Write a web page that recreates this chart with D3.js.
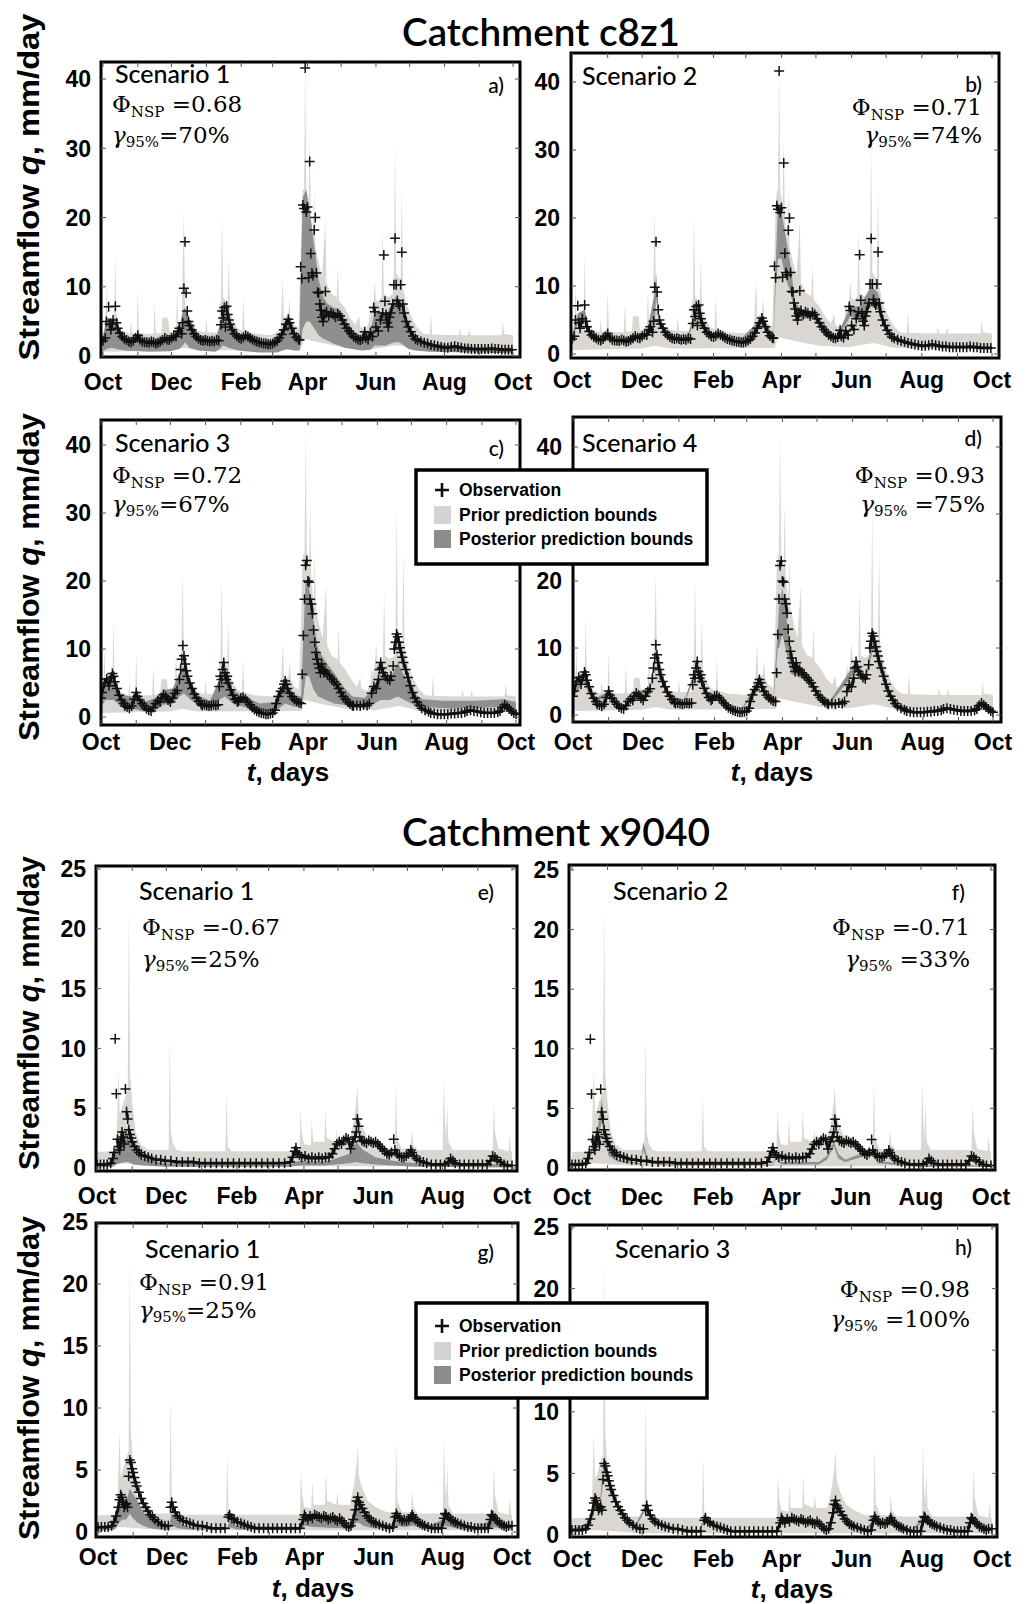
<!DOCTYPE html>
<meta charset="utf-8">
<body style="margin:0;background:#ffffff">
<script src="https://cdn.jsdelivr.net/npm/d3@7"></script>
<div id="chart"></div>
<script>

// ---------- axis data ----------
var monthDays = [0,31,61,92,123,151,182,212,243,273,304,335,365];
var labelDays = [0,61,123,182,243,304,365];
var labelNames = ["Oct","Dec","Feb","Apr","Jun","Aug","Oct"];
var ticksC8z1 = [0,10,20,30,40];
var ticksX9040 = [0,5,10,15,20,25];

// ---------- catchment c8z1 : observations [day, q] ----------
var obsC8z1Ab = [[0,2.2],[2,2.6],[3,5.0],[5,7.1],[6,4.6],[7,3.8],[9,5.2],[11,7.2],[12,4.8],[13,4.0],[15,3.3],[17,2.8],[19,2.5],[21,2.3],[23,2.1],[25,2.0],[27,2.2],[29,2.6],[31,3.0],[33,2.4],[35,2.1],[37,2.0],[39,2.0],[41,1.9],[43,2.1],[45,2.0],[47,1.8],[49,1.9],[51,2.1],[53,2.3],[55,2.6],[57,2.4],[59,2.3],[61,2.6],[63,2.9],[65,2.8],[67,3.6],[68,4.0],[70,3.2],[71,4.8],[72,9.8],[73,16.5],[74,9.1],[75,6.5],[76,5.0],[77,4.4],[79,3.8],[81,3.2],[83,2.8],[85,2.5],[87,2.3],[89,2.2],[91,2.3],[93,2.2],[95,2.1],[97,2.2],[99,2.1],[101,2.3],[103,2.2],[105,4.5],[106,6.5],[107,5.5],[108,7.0],[109,4.2],[110,7.2],[111,6.0],[112,5.2],[113,4.6],[115,3.8],[117,3.2],[119,2.9],[121,2.6],[123,2.5],[125,2.7],[127,3.0],[129,2.8],[131,2.6],[133,2.4],[135,2.2],[137,2.1],[139,2.0],[141,1.9],[143,1.8],[145,1.8],[147,1.7],[149,1.7],[151,1.8],[153,2.0],[155,2.2],[157,2.6],[159,3.1],[161,3.8],[163,4.6],[165,5.3],[166,4.8],[168,4.0],[170,3.2],[172,2.7],[174,2.4],[175,2.3],[176,12.9],[177,11.2],[178,21.8],[179,21.3],[180,41.6],[181,20.8],[182,21.5],[183,11.3],[184,28.1],[185,14.8],[186,12.0],[187,11.6],[188,18.2],[189,20.0],[190,12.0],[191,9.2],[192,9.1],[193,7.5],[194,6.6],[195,5.6],[196,5.0],[197,6.0],[198,9.3],[199,6.4],[201,5.8],[203,6.2],[205,6.0],[207,5.6],[209,6.1],[211,5.8],[213,5.2],[215,4.6],[217,4.0],[219,3.6],[221,3.2],[223,2.8],[225,2.6],[227,2.4],[229,2.3],[231,2.5],[233,3.5],[234,2.6],[236,2.4],[238,3.4],[240,2.8],[241,7.0],[242,6.4],[243,4.2],[245,3.6],[247,5.2],[249,6.2],[250,14.6],[251,7.9],[252,6.0],[253,4.8],[254,4.2],[255,5.6],[256,6.2],[258,7.5],[259,10.3],[260,17.0],[261,10.3],[262,8.0],[263,7.5],[264,7.2],[265,10.3],[266,15.0],[267,7.5],[268,6.2],[270,5.0],[272,4.2],[274,3.5],[276,2.9],[278,2.5],[280,2.3],[283,2.1],[286,1.9],[289,1.8],[292,1.6],[295,1.5],[298,1.4],[301,1.3],[304,1.2],[307,1.2],[310,1.3],[313,1.4],[316,1.3],[319,1.2],[322,1.1],[325,1.1],[328,1.0],[331,1.0],[334,1.0],[337,1.0],[340,1.0],[343,1.0],[346,1.1],[349,1.0],[352,1.0],[355,0.9],[358,0.9],[361,0.9],[364,0.9]];

var obsC8z1Cd = [[0,2.8],[1,3.6],[3,5.0],[5,5.6],[7,4.6],[9,5.8],[10,6.4],[11,6.0],[12,5.2],[14,4.2],[16,3.2],[18,2.5],[20,2.0],[21,1.6],[23,1.5],[25,1.3],[27,1.6],[29,2.6],[31,3.6],[32,3.0],[34,2.5],[36,2.0],[38,1.6],[40,1.2],[42,1.0],[44,0.9],[46,1.4],[48,2.0],[50,2.4],[52,2.2],[53,2.8],[55,3.3],[57,3.0],[59,2.5],[61,2.2],[63,2.8],[65,3.5],[67,3.9],[69,5.5],[70,7.0],[71,8.5],[72,10.5],[73,9.0],[74,7.8],[75,6.8],[76,6.0],[78,5.0],[80,4.2],[82,3.4],[84,2.8],[86,2.3],[88,1.9],[89,1.7],[91,1.8],[93,1.7],[95,1.6],[97,1.7],[99,1.8],[101,1.7],[103,1.8],[104,4.5],[105,6.0],[106,5.5],[107,7.0],[108,8.0],[109,6.5],[110,5.5],[111,6.0],[112,5.0],[114,4.0],[116,3.2],[118,2.6],[120,2.2],[121,2.4],[123,2.8],[125,2.9],[127,2.6],[129,2.2],[131,1.8],[133,1.4],[135,1.1],[137,0.9],[139,0.7],[141,0.6],[143,0.5],[145,0.4],[147,0.4],[149,0.5],[151,0.6],[153,1.0],[154,2.0],[156,3.0],[158,3.8],[160,4.2],[161,4.8],[162,5.3],[163,4.8],[164,4.2],[166,3.5],[168,3.0],[170,2.6],[172,2.3],[174,2.1],[176,2.0],[177,6.3],[178,12.0],[179,17.3],[180,22.3],[181,23.0],[182,20.0],[183,19.8],[184,17.3],[185,16.6],[186,15.2],[187,12.8],[188,11.0],[189,9.5],[190,8.5],[191,7.8],[192,7.2],[193,6.5],[194,7.8],[195,7.0],[196,6.5],[197,6.8],[199,6.3],[201,6.0],[203,5.6],[205,5.2],[207,4.8],[209,4.2],[211,3.6],[213,3.0],[215,2.6],[217,2.2],[219,1.9],[221,1.7],[222,1.6],[225,1.7],[228,1.6],[231,1.8],[234,1.7],[236,2.0],[238,3.5],[240,4.5],[242,4.2],[244,5.5],[245,7.0],[246,8.0],[247,7.2],[248,6.5],[250,6.0],[252,5.6],[254,5.4],[255,6.0],[257,7.5],[258,10.0],[259,11.0],[260,12.2],[261,11.8],[262,11.0],[263,10.2],[264,9.5],[265,8.8],[266,8.0],[268,7.0],[270,5.8],[272,4.6],[274,3.6],[276,2.8],[278,2.2],[280,1.7],[282,1.3],[285,1.0],[288,0.8],[290,0.6],[293,0.5],[296,0.4],[299,0.4],[302,0.4],[305,0.4],[308,0.5],[311,0.5],[314,0.6],[317,0.6],[320,0.7],[322,0.9],[325,1.0],[328,0.9],[331,0.8],[334,0.7],[337,0.6],[340,0.6],[343,0.6],[346,0.6],[349,0.7],[351,0.9],[353,1.4],[355,1.8],[357,1.5],[359,1.2],[361,0.9],[363,0.6],[365,0.4]];

// prior prediction bounds c8z1 (upper and lower edge, [day, q])
var priorHiC8z1 = [[0,3.2],[2,4.5],[3,10],[4,5],[6,5.2],[10,4.8],[11,14.5],[12,5],[16,3.8],[24,3.2],[25,5.2],[26,3.2],[30,3.2],[31,9.3],[32,3.5],[36,3.2],[45,3.2],[46,7.5],[47,3.3],[52,3.3],[53,5.6],[58,5.5],[59,3.5],[65,3.6],[66,9.5],[67,4.5],[70,5.5],[72,21],[73,7],[76,5.5],[78,4.5],[80,3.8],[91,3.4],[92,5.4],[93,3.4],[103,3.4],[104,7.5],[105,8],[106,20.5],[107,8.5],[111,7.5],[112,14],[113,6.5],[116,5],[120,4],[124,3.6],[125,8.5],[126,3.6],[135,3.2],[150,3.0],[158,3.8],[160,11],[161,5.5],[165,6],[166,8.2],[167,5.5],[170,4.5],[174,4],[176,14],[177,22],[178,24],[179,24],[180,42],[181,24],[182,23],[183,22],[184,31.5],[185,20],[187,17],[188,24],[189,16],[192,13.5],[195,11.5],[198,19.3],[199,10.5],[203,9],[208,8.5],[209,13],[210,8],[215,7],[220,5.5],[225,4.5],[228,5.8],[229,4.2],[234,3.8],[237,5],[238,7.6],[239,6],[241,8],[242,10.8],[243,8],[246,8],[248,8.5],[249,18.5],[250,9],[254,8.5],[258,9],[259,12],[260,31],[261,12],[265,11],[266,24.5],[267,10],[270,7.5],[275,5.5],[280,4],[285,3.2],[291,3.1],[292,6.2],[293,3.1],[317,3],[318,4],[319,3],[325,3],[326,4],[327,3],[355,3],[356,5],[357,3.2],[365,3]];
var priorLoC8z1 = [[0,0.6],[60,0.8],[72,1.2],[85,0.8],[176,0.9],[179,2.5],[192,2.0],[215,1.2],[240,1.0],[262,1.6],[280,0.9],[365,0.7]];

// posterior prediction bounds [day, lower, upper]
var postA = [[0,0.6,2.6],[3,1.0,5.5],[8,1.2,5.5],[12,1.0,4.5],[20,0.8,2.6],[40,0.6,2.3],[60,0.7,2.6],[68,1.0,4.0],[71,1.5,6.5],[73,2.0,7.0],[77,1.2,5.5],[85,0.8,3.0],[100,0.6,2.3],[104,1.0,4.5],[107,1.5,7.0],[112,1.2,5.5],[120,0.8,3.2],[140,0.5,2.1],[155,0.5,2.2],[160,0.8,4.0],[164,1.0,5.5],[170,0.8,3.2],[175,0.8,2.8],[176,2,12],[178,4,23],[181,5,24],[184,5,21],[188,4,16],[192,3,11],[196,2.5,8.5],[200,2.2,7.5],[205,1.8,7],[210,1.5,6.8],[215,1.2,5.5],[222,1.0,3.8],[230,0.8,2.8],[238,0.9,3.5],[242,1.5,6.5],[248,1.5,6.2],[252,1.5,6.0],[256,1.8,7.0],[260,2.0,8.5],[264,2.0,8.2],[268,1.5,6.5],[272,1.0,4.5],[278,0.8,2.8],[290,0.6,1.8],[330,0.5,1.3],[365,0.4,1.1]];
var postB = [[0,2.0,2.6],[5,4.5,6.0],[11,5.0,6.5],[15,3.0,3.6],[25,1.8,2.2],[31,2.6,3.2],[40,1.7,2.1],[55,2.3,2.8],[65,2.6,3.2],[72,5,9],[73,8,12],[76,4.2,5.2],[85,2.2,2.7],[100,1.9,2.4],[108,5.5,7.0],[112,4.5,5.5],[120,2.5,3.0],[127,2.6,3.1],[145,1.5,1.9],[166,4.5,5.5],[175,2.0,2.5],[177,10,13],[179,14,22],[182,14,21],[186,11,17],[190,9,13],[194,5.5,7.5],[200,5.2,6.5],[210,5.2,6.3],[220,2.9,3.5],[230,2.1,2.6],[242,5.5,7.0],[250,5,7],[260,7,10],[266,6.5,9],[272,3.4,4.2],[280,2.0,2.5],[300,1.1,1.5],[365,0.7,1.0]];
var postC = [[0,1.5,3.5],[4,2.5,5.0],[11,2.5,5.5],[18,1.5,3.2],[28,1.2,3.0],[38,0.8,2.2],[48,1.0,2.8],[55,1.8,4.0],[63,2.0,4.2],[69,3.0,6.5],[73,3.5,7.5],[79,2.5,5.0],[87,1.5,3.0],[96,1.2,2.4],[104,2.5,5.5],[109,3.0,6.5],[116,2.0,4.0],[125,1.5,3.0],[140,0.8,2.0],[153,0.8,2.2],[162,2.0,4.8],[170,1.5,3.2],[176,1.5,3.0],[178,3.0,12],[180,6.0,20],[183,6.0,19],[187,4.0,14],[191,3.0,10],[198,2.5,8],[205,2.0,6.5],[213,1.8,4.5],[221,1.5,3.0],[232,1.3,2.8],[240,2.0,4.5],[246,2.5,6.0],[254,2.5,5.5],[261,3.0,8.0],[267,2.5,6.0],[275,1.8,3.5],[283,1.5,2.6],[300,1.3,2.4],[329,1.3,2.4],[354,1.5,2.6],[365,1.2,2.2]];
var postD = [[0,2.4,3.0],[9,5.0,6.0],[18,1.8,2.3],[31,3.0,3.6],[43,0.8,1.1],[55,2.8,3.4],[67,3.5,4.2],[72,8.5,10],[82,3.0,3.6],[96,1.5,1.8],[108,6.5,7.8],[116,2.9,3.4],[125,2.6,3.0],[145,0.3,0.5],[162,4.6,5.4],[174,1.8,2.2],[178,10,13],[179,10,16],[182,12,19],[186,9,14],[190,6,9],[193,6,7.5],[203,5,6],[213,2.6,3.2],[222,1.4,1.8],[246,6.5,8],[254,5,5.8],[261,10,12],[271,4,5],[281,1.2,1.6],[300,0.3,0.5],[325,0.8,1.1],[345,0.5,0.7],[355,1.5,1.9],[365,0.3,0.5]];

// ---------- catchment x9040 ----------
var obsX9040Ef = [[0,0.3],[3,0.3],[6,0.3],[9,0.3],[12,0.4],[14,0.8],[15,1.3],[16,10.8],[17,6.2],[18,2.4],[19,1.8],[20,1.5],[21,2.2],[22,3.0],[23,2.6],[24,2.0],[25,6.6],[26,4.7],[27,4.1],[28,3.2],[29,2.8],[30,2.5],[31,2.2],[33,1.8],[35,1.5],[37,1.3],[39,1.1],[42,1.0],[45,0.9],[48,0.8],[52,0.7],[56,0.7],[60,0.6],[65,0.6],[70,0.5],[75,0.5],[80,0.5],[85,0.5],[90,0.4],[95,0.4],[100,0.4],[105,0.4],[110,0.4],[115,0.4],[120,0.4],[125,0.4],[130,0.4],[135,0.4],[140,0.4],[145,0.4],[150,0.4],[155,0.4],[160,0.4],[165,0.4],[170,0.5],[172,0.9],[174,1.4],[175,1.7],[176,1.3],[178,1.1],[180,0.9],[183,1.0],[186,0.8],[189,0.9],[192,0.8],[195,0.9],[198,0.8],[201,0.9],[204,0.9],[207,1.2],[209,1.6],[211,2.0],[213,2.2],[215,2.0],[217,2.3],[219,2.5],[221,2.4],[223,1.6],[225,2.2],[227,2.6],[228,3.0],[229,4.1],[230,3.5],[231,2.6],[233,2.3],[235,2.2],[237,2.1],[239,2.3],[241,2.2],[243,2.1],[245,2.2],[247,2.0],[249,1.8],[251,1.6],[253,1.4],[255,1.2],[257,1.1],[259,1.3],[261,2.4],[262,1.5],[264,1.2],[266,1.0],[268,0.9],[270,0.9],[272,1.0],[274,1.2],[276,1.5],[277,1.3],[279,1.0],[281,0.8],[284,0.6],[287,0.5],[290,0.4],[294,0.3],[298,0.3],[302,0.3],[306,0.3],[309,0.5],[311,0.8],[313,0.6],[315,0.4],[319,0.3],[323,0.3],[327,0.3],[331,0.3],[335,0.3],[339,0.3],[343,0.3],[346,0.6],[348,1.0],[350,0.9],[352,0.7],[355,0.5],[358,0.3],[361,0.2],[365,0.2]];

var obsX9040Gh = [[0,0.4],[3,0.4],[6,0.4],[9,0.4],[12,0.5],[14,0.8],[16,1.3],[18,2.0],[19,2.6],[20,3.0],[21,2.8],[22,2.4],[23,2.0],[24,2.2],[25,2.3],[26,2.0],[27,4.5],[28,5.8],[29,5.6],[30,5.1],[31,4.8],[32,4.4],[33,4.0],[34,3.7],[36,3.2],[38,2.7],[40,2.3],[42,2.0],[44,1.7],[46,1.4],[48,1.2],[50,1.0],[53,0.8],[56,0.6],[59,0.5],[62,0.5],[64,2.0],[65,2.4],[66,2.0],[68,1.6],[70,1.3],[72,1.1],[75,0.9],[78,0.8],[81,0.7],[84,0.6],[88,0.5],[92,0.5],[96,0.4],[100,0.3],[104,0.3],[108,0.3],[112,0.3],[115,1.2],[116,1.4],[118,1.1],[120,1.0],[123,0.8],[126,0.7],[129,0.6],[132,0.5],[135,0.4],[138,0.3],[142,0.3],[146,0.3],[150,0.3],[154,0.3],[158,0.3],[162,0.3],[166,0.3],[170,0.3],[174,0.3],[178,0.3],[181,1.0],[182,1.4],[183,1.2],[185,1.0],[187,1.3],[189,1.1],[191,1.4],[193,1.3],[195,1.2],[197,1.1],[199,1.3],[201,1.2],[203,1.0],[205,1.1],[207,1.2],[209,1.0],[211,0.9],[213,1.1],[215,0.9],[217,0.7],[219,0.5],[221,0.4],[223,0.5],[225,1.0],[227,1.8],[228,2.5],[229,2.8],[230,2.4],[231,2.2],[233,1.9],[235,1.6],[237,1.3],[239,1.1],[241,0.9],[243,0.8],[245,0.7],[248,0.6],[251,0.5],[254,0.4],[257,0.3],[260,0.4],[262,1.2],[263,1.5],[264,1.3],[266,1.1],[268,0.9],[270,1.0],[272,0.9],[274,1.0],[276,1.2],[277,1.4],[278,1.2],[280,1.0],[282,0.8],[284,0.7],[286,0.6],[288,0.5],[291,0.4],[294,0.3],[297,0.3],[300,0.3],[303,0.3],[305,1.1],[306,1.5],[307,1.4],[309,1.2],[311,1.0],[313,0.9],[315,0.8],[317,0.7],[320,0.6],[323,0.5],[326,0.4],[329,0.4],[332,0.3],[335,0.3],[338,0.3],[341,0.3],[344,0.3],[346,1.0],[347,1.4],[348,1.3],[350,1.1],[352,0.9],[354,0.7],[356,0.6],[358,0.5],[360,0.4],[362,0.5],[365,0.5]];

var priorHiX9040 = [[0,1.35],[17,1.4],[18,5],[19,8.2],[20,4.5],[22,5],[25,6],[27,6.5],[28,22],[29,8],[31,5.5],[34,3],[38,2],[45,1.5],[63,1.5],[64,11],[65,3],[67,2],[70,1.5],[75,1.4],[113,1.4],[114,6.3],[115,1.8],[118,1.4],[178,1.4],[179,4.9],[180,3],[182,2],[188,1.9],[189,4.1],[190,2.2],[200,2.2],[201,4.9],[202,2.5],[210,2.2],[211,3.2],[212,2.2],[222,2.2],[226,4],[228,5.5],[229,6.9],[230,4.5],[233,3.5],[238,2.5],[245,2],[255,1.6],[262,1.6],[263,7.2],[264,2.5],[268,1.6],[276,1.6],[277,3.3],[278,2],[282,1.5],[304,1.5],[305,7.4],[306,4],[307,2.5],[308,5.3],[309,2.2],[313,1.5],[348,1.5],[349,5.4],[350,3],[353,1.6],[362,1.4],[363,2.7],[364,1.4],[365,1.35]];
var priorLoX9040 = [[0,0.15],[18,0.4],[35,0.3],[60,0.15],[365,0.15]];

var postE = [[0,0.05,0.3],[14,0.1,0.5],[17,0.3,2.0],[20,0.4,2.5],[25,0.5,3.0],[28,0.5,2.6],[32,0.3,1.5],[40,0.2,0.8],[60,0.1,0.4],[170,0.1,0.3],[178,0.2,0.6],[200,0.2,0.5],[210,0.3,0.8],[222,0.4,1.2],[228,0.5,2.2],[234,0.4,1.5],[245,0.3,0.9],[260,0.2,0.6],[280,0.1,0.4],[365,0.05,0.3]];
var postF = [[0,0.1,0.2],[14,0.2,0.4],[18,1.5,2.2],[22,2.0,3.0],[26,4.0,5.8],[28,2.5,3.5],[32,1.0,1.4],[40,0.5,0.7],[60,0.3,0.4],[62,1.5,2.2],[66,0.5,0.8],[80,0.2,0.3],[175,0.2,0.3],[178,0.8,1.2],[182,0.3,0.5],[215,0.3,0.5],[222,0.7,1.0],[228,1.8,2.2],[232,0.8,1.2],[238,0.5,0.7],[262,1.2,1.6],[266,0.4,0.6],[300,0.1,0.2],[365,0.1,0.2]];
var postG = [[0,0.1,0.3],[15,0.2,0.6],[19,0.8,2.0],[22,1.0,2.2],[25,1.0,2.4],[28,1.5,3.5],[30,1.2,3.2],[34,0.8,2.6],[40,0.5,1.6],[46,0.3,1.0],[55,0.2,0.5],[63,0.2,0.5],[65,0.6,1.6],[70,0.3,0.8],[80,0.2,0.4],[114,0.2,0.3],[116,0.4,0.9],[122,0.2,0.5],[180,0.2,0.4],[182,0.5,1.2],[190,0.4,1.0],[215,0.3,0.8],[222,0.2,0.5],[226,0.6,1.5],[229,0.8,1.9],[234,0.5,1.3],[242,0.3,0.7],[262,0.3,0.6],[264,0.5,1.1],[270,0.4,0.8],[278,0.5,1.1],[290,0.2,0.4],[306,0.5,1.1],[315,0.3,0.6],[330,0.1,0.3],[348,0.4,1.0],[356,0.3,0.5],[365,0.2,0.4]];
var postH = [[0,0.3,0.5],[15,0.6,1.0],[20,2.5,3.2],[24,1.8,2.4],[28,5.2,6.4],[32,4.0,4.8],[38,2.4,3.0],[45,1.3,1.7],[55,0.6,0.8],[64,2.0,2.5],[70,1.1,1.4],[85,0.5,0.7],[110,0.3,0.4],[116,1.1,1.5],[125,0.6,0.8],[140,0.2,0.4],[180,0.2,0.4],[182,1.1,1.5],[200,1.0,1.3],[215,0.8,1.0],[222,0.3,0.5],[229,2.3,2.9],[240,0.8,1.1],[255,0.3,0.5],[264,1.2,1.5],[272,0.8,1.0],[278,1.1,1.4],[295,0.2,0.4],[306,1.2,1.5],[320,0.5,0.7],[340,0.2,0.4],[348,1.1,1.4],[360,0.4,0.6],[365,0.4,0.6]];

// ---------- panel layout ----------
var panels = [
  {tag:"a)", scen:"Scenario 1", nsp:"0.68", gam:"=70%", obs:obsC8z1Ab, hi:priorHiC8z1, lo:priorLoC8z1, post:postA, ticks:ticksC8z1,
   frame:[101,62,520,357], xr:[103,513], yr:[356,79], xlab:390, ylab:91, sc:[115,83], st:[112,112,143,"start"], lt:[504,93]},
  {tag:"b)", scen:"Scenario 2", nsp:"0.71", gam:"=74%", obs:obsC8z1Ab, hi:priorHiC8z1, lo:priorLoC8z1, post:postB, ticks:ticksC8z1,
   frame:[571,53,999,358], xr:[572,992], yr:[354,82], xlab:388, ylab:560, sc:[582,85], st:[982,115,143,"end"], lt:[982,92]},
  {tag:"c)", scen:"Scenario 3", nsp:"0.72", gam:"=67%", obs:obsC8z1Cd, hi:priorHiC8z1, lo:priorLoC8z1, post:postC, ticks:ticksC8z1,
   frame:[101,420,520,725], xr:[101,516], yr:[717,445], xlab:750, ylab:91, sc:[115,452], st:[112,483,512,"start"], lt:[504,456]},
  {tag:"d)", scen:"Scenario 4", nsp:"0.93", gam:" =75%", obs:obsC8z1Cd, hi:priorHiC8z1, lo:priorLoC8z1, post:postD, ticks:ticksC8z1,
   frame:[573,417,1001,722], xr:[573,993], yr:[715,447], xlab:750, ylab:562, sc:[582,452], st:[985,483,512,"end"], lt:[982,446]},
  {tag:"e)", scen:"Scenario 1", nsp:"-0.67", gam:"=25%", obs:obsX9040Ef, hi:priorHiX9040, lo:priorLoX9040, post:postE, ticks:ticksX9040,
   frame:[96,866,517,1171], xr:[97,512], yr:[1168,869], xlab:1204, ylab:86, sc:[139,900], st:[142,935,967,"start"], lt:[494,900]},
  {tag:"f)", scen:"Scenario 2", nsp:"-0.71", gam:" =33%", obs:obsX9040Ef, hi:priorHiX9040, lo:priorLoX9040, post:postF, ticks:ticksX9040,
   frame:[569,865,995,1170], xr:[572,991], yr:[1168,870], xlab:1205, ylab:559, sc:[613,900], st:[970,935,967,"end"], lt:[965,900]},
  {tag:"g)", scen:"Scenario 1", nsp:"0.91", gam:"=25%", obs:obsX9040Gh, hi:priorHiX9040, lo:priorLoX9040, post:postG, ticks:ticksX9040,
   frame:[96,1223,518,1537], xr:[98,512], yr:[1532,1222], xlab:1565, ylab:88, sc:[145,1258], st:[139,1290,1318,"start"], lt:[494,1260]},
  {tag:"h)", scen:"Scenario 3", nsp:"0.98", gam:" =100%", obs:obsX9040Gh, hi:priorHiX9040, lo:priorLoX9040, post:postH, ticks:ticksX9040,
   frame:[570,1225,997,1537], xr:[572,992], yr:[1535,1227], xlab:1567, ylab:559, sc:[615,1258], st:[970,1297,1327,"end"], lt:[972,1255]}
];

// legend boxes [x, y, w, h] (they sit on top of the right-hand panels)
var legendBoxes = [[416, 470, 291, 94], [416, 1303, 291, 95]];

var W = 1029, H = 1604;
var priorColor = "#dad6d1", postColor = "#8f8f8f";
var sansBold = "'Liberation Sans', Arial, sans-serif";
var svg = d3.select("#chart").append("svg").attr("width", W).attr("height", H);

function underLegend(px, py) {
  return legendBoxes.some(function(b) {
    return px > b[0] && px - 26 < b[0] + b[2] && py > b[1] - 4 && py < b[1] + b[3] + 4;
  });
}

panels.forEach(function(p, i) {
  var f = p.frame;
  var x = d3.scaleLinear().domain([0, 365]).range(p.xr);
  var yMax = p.ticks[p.ticks.length - 1];
  var y = d3.scaleLinear().domain([0, yMax]).range(p.yr);
  var g = svg.append("g");

  g.append("clipPath").attr("id", "clip" + i)
    .append("rect").attr("x", f[0]).attr("y", f[1]).attr("width", f[2] - f[0]).attr("height", f[3] - f[1]);
  var plot = g.append("g").attr("clip-path", "url(#clip" + i + ")");

  // prior bounds: upper edge forward, lower edge back
  var edge = d3.line().x(function(d) { return x(d[0]); }).y(function(d) { return y(d[1]); });
  plot.append("path")
    .attr("d", edge(p.hi.concat(p.lo.slice().reverse())) + "Z")
    .attr("fill", priorColor);

  // posterior bounds
  var area = d3.area().x(function(d) { return x(d[0]); })
    .y0(function(d) { return y(d[1]); }).y1(function(d) { return y(d[2]); });
  plot.append("path").attr("d", area(p.post)).attr("fill", postColor);

  // observations: neighbouring daily crosses merge into a thick trace in slow recessions,
  // so join only neighbours that are close on screen; peaks stay isolated crosses
  var trace = "";
  for (var k = 1; k < p.obs.length; k++) {
    var a = p.obs[k - 1], b = p.obs[k];
    if (Math.abs(y(a[1]) - y(b[1])) <= 10) {
      trace += "M" + x(a[0]) + "," + y(a[1]) + "L" + x(b[0]) + "," + y(b[1]);
    }
  }
  plot.append("path").attr("d", trace)
    .attr("fill", "none").attr("stroke", "#111").attr("stroke-width", 2.8).attr("stroke-linecap", "round");
  plot.selectAll(".obs").data(p.obs).enter().append("path")
    .attr("transform", function(d) { return "translate(" + x(d[0]) + "," + y(d[1]) + ")"; })
    .attr("d", "M-5,0H5M0,-5V5")
    .attr("stroke", "#111").attr("stroke-width", 1.5).attr("fill", "none");

  // frame and inward ticks
  g.append("rect").attr("x", f[0]).attr("y", f[1]).attr("width", f[2] - f[0]).attr("height", f[3] - f[1])
    .attr("fill", "none").attr("stroke", "#000").attr("stroke-width", 3);
  g.selectAll(".xt").data(monthDays).enter().append("path")
    .attr("d", function(d) { var xx = x(d); return "M" + xx + "," + f[3] + "v-5M" + xx + "," + f[1] + "v5"; })
    .attr("stroke", "#555").attr("stroke-width", 1);
  g.selectAll(".yt").data(p.ticks).enter().append("path")
    .attr("d", function(d) { var yy = y(d); return "M" + f[0] + "," + yy + "h5M" + f[2] + "," + yy + "h-5"; })
    .attr("stroke", "#555").attr("stroke-width", 1);

  // tick labels
  g.selectAll(".xl").data(labelDays).enter().append("text")
    .attr("x", function(d) { return x(d); }).attr("y", p.xlab)
    .attr("text-anchor", "middle").attr("font-family", sansBold).attr("font-weight", "bold").attr("font-size", 23)
    .text(function(d, j) { return labelNames[j]; });
  g.selectAll(".yl").data(p.ticks.filter(function(d) { return !underLegend(p.ylab, y(d)); }))
    .enter().append("text")
    .attr("x", p.ylab).attr("y", function(d) { return y(d); }).attr("dy", "0.36em")
    .attr("text-anchor", "end").attr("font-family", sansBold).attr("font-weight", "bold").attr("font-size", 23)
    .text(function(d) { return d; });

  // annotations
  g.append("text").attr("x", p.sc[0]).attr("y", p.sc[1])
    .attr("font-family", "Lato, 'Open Sans', sans-serif").attr("font-weight", 500).attr("font-size", 25).text(p.scen);
  g.append("text").attr("x", p.lt[0]).attr("y", p.lt[1]).attr("text-anchor", "end")
    .attr("font-family", "Lato, 'Open Sans', sans-serif").attr("font-weight", 500).attr("font-size", 21).text(p.tag);

  var t1 = g.append("text").attr("x", p.st[0]).attr("y", p.st[1]).attr("text-anchor", p.st[3])
    .attr("font-family", "'DejaVu Serif', serif").attr("font-size", 23);
  t1.append("tspan").text("Φ");
  t1.append("tspan").attr("font-size", 15).attr("dy", 5).text("NSP");
  t1.append("tspan").attr("dy", -5).text(" =" + p.nsp);

  var t2 = g.append("text").attr("x", p.st[0]).attr("y", p.st[2]).attr("text-anchor", p.st[3])
    .attr("font-family", "'DejaVu Serif', serif").attr("font-size", 23);
  t2.append("tspan").attr("font-style", "italic").text("γ");
  t2.append("tspan").attr("font-size", 15).attr("dy", 4).text("95%");
  t2.append("tspan").attr("dy", -4).text(p.gam);
});

// row y-axis titles
var rowTitles = [[187, 347], [577, 328], [1013, 314], [1378, 324]];
rowTitles.forEach(function(r) {
  var t = svg.append("text").attr("transform", "translate(28," + r[0] + ") rotate(-90)")
    .attr("text-anchor", "middle").attr("dy", "0.35em")
    .attr("font-family", sansBold).attr("font-weight", "bold").attr("font-size", 30)
    .attr("textLength", r[1]).attr("lengthAdjust", "spacingAndGlyphs");
  t.append("tspan").text("Streamflow ");
  t.append("tspan").attr("font-style", "italic").text("q");
  t.append("tspan").text(", mm/day");
});

// x-axis titles
var dayTitles = [[288, 781], [772, 781], [313, 1597], [792, 1598]];
dayTitles.forEach(function(r) {
  var t = svg.append("text").attr("x", r[0]).attr("y", r[1]).attr("text-anchor", "middle")
    .attr("font-family", sansBold).attr("font-weight", "bold").attr("font-size", 26);
  t.append("tspan").attr("font-style", "italic").text("t");
  t.append("tspan").text(", days");
});

// catchment titles
svg.append("text").attr("x", 402).attr("y", 46).attr("font-family", "Lato, sans-serif").attr("font-weight", 600).attr("font-size", 38)
  .attr("textLength", 278).attr("lengthAdjust", "spacingAndGlyphs").text("Catchment c8z1");
svg.append("text").attr("x", 402).attr("y", 846).attr("font-family", "Lato, sans-serif").attr("font-weight", 600).attr("font-size", 38)
  .attr("textLength", 308).attr("lengthAdjust", "spacingAndGlyphs").text("Catchment x9040");

// legends
var legendRows = ["Observation", "Prior prediction bounds", "Posterior prediction bounds"];
function drawLegend(box, base, swTop) {
  var bx = box[0], by = box[1];
  var lg = svg.append("g");
  lg.append("rect").attr("x", bx).attr("y", by).attr("width", box[2]).attr("height", box[3])
    .attr("fill", "#fff").attr("stroke", "#000").attr("stroke-width", 3.5);
  lg.append("path").attr("d", "M" + (bx + 19) + "," + (base[0] - 6) + "h14M" + (bx + 26) + "," + (base[0] - 13) + "v14")
    .attr("stroke", "#111").attr("stroke-width", 2.6);
  lg.append("rect").attr("x", bx + 18).attr("y", swTop[0]).attr("width", 17).attr("height", 18).attr("fill", "#d3d3d3");
  lg.append("rect").attr("x", bx + 18).attr("y", swTop[1]).attr("width", 17).attr("height", 18).attr("fill", "#8c8c8c");
  lg.selectAll(".lt").data(legendRows).enter().append("text")
    .attr("x", bx + 43).attr("y", function(d, j) { return base[j]; })
    .attr("font-family", sansBold).attr("font-weight", "bold").attr("font-size", 17.5)
    .text(function(d) { return d; });
}
drawLegend(legendBoxes[0], [496, 521, 545], [506, 530]);
drawLegend(legendBoxes[1], [1332, 1357, 1381], [1342, 1366]);

</script>
